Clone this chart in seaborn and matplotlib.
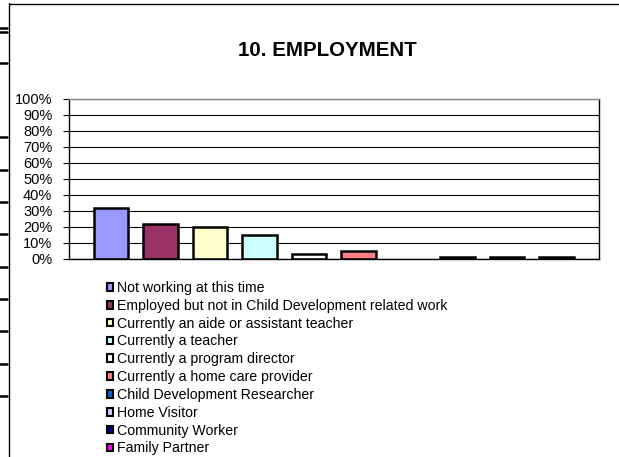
import numpy as np
import pandas as pd
import matplotlib.pyplot as plt
from matplotlib.patches import Patch
from matplotlib.lines import Line2D
import seaborn as sns

# Data
categories = ["Not working at this time",
              "Employed but not in Child Development related work",
              "Currently an aide or assistant teacher",
              "Currently a teacher",
              "Currently a program director",
              "Currently a home care provider",
              "Child Development Researcher",
              "Home Visitor",
              "Community Worker",
              "Family Partner"]
values = [32, 22, 20, 15, 3, 5, 0, 1, 1, 1]
colors = ["#9999FF", "#993366", "#FFFFCC", "#CCFFFF", "#FFFFFF",
          "#FF8080", "#0066CC", "#CCCCFF", "#000080", "#FF00FF"]
yticks = list(range(0, 101, 10))
ytick_labels = [str(t) + "%" for t in yticks]

sns.set_style("white")
plt.rcParams['font.family'] = ['Liberation Sans', 'DejaVu Sans']
plt.rcParams['text.color'] = 'black'
plt.rcParams['ytick.color'] = 'black'
plt.rcParams['ytick.labelcolor'] = 'black'

df = pd.DataFrame({"cat": categories, "val": values})

W, H = 619, 457
fig = plt.figure(figsize=(W / 100, H / 100), dpi=100)
ax = fig.add_axes([69 / W, 1 - 259 / H, 530 / W, 160 / H])

# gridlines drawn behind bars
for t in yticks:
    ax.axhline(t, color="black", lw=0.8, zorder=0)

sns.barplot(data=df, x="cat", y="val", hue="cat", palette=colors,
            saturation=1, legend=False, width=0.69, edgecolor="black",
            linewidth=1.8, ax=ax, zorder=2)
# a zero bar shows nothing in the original
for p in ax.patches:
    if p.get_height() == 0:
        p.set_edgecolor("none")

ax.set_xlim(-0.85, 9.86)
ax.set_ylim(0, 100)
ax.set_yticks(yticks)
ax.set_yticklabels(ytick_labels, fontsize=10.5, color="black")
ax.set_xticks([])
ax.set_xlabel("")
ax.set_ylabel("")
ax.tick_params(axis="y", which="major", left=True, length=4, width=0.8,
               color="black", pad=8)
for side in ["left", "bottom", "right", "top"]:
    ax.spines[side].set_visible(True)
    ax.spines[side].set_color("black")
    ax.spines[side].set_linewidth(1.0)
ax.spines["top"].set_color("#888888")

fig.text(327 / W, 1 - 50.5 / H, "10. EMPLOYMENT", ha="center", va="center",
         fontsize=14.8, fontweight="bold", color="black")

handles = [Patch(facecolor=c, edgecolor="black", linewidth=1.5) for c in colors]
leg = fig.legend(handles, categories, loc="upper left",
                 bbox_to_anchor=(107 / W, 1 - 281 / H), frameon=False,
                 fontsize=10.2, handlelength=0.45, handleheight=0.45,
                 handletextpad=0.25, labelspacing=0.27, borderpad=0,
                 borderaxespad=0)
for txt in leg.get_texts():
    txt.set_color("black")

# outer chart frame and neighbouring tick stubs at the left edge
fig.add_artist(Line2D([8.5 / W, 8.5 / W], [0, 1 - 3 / H], color="black",
                      lw=1.0, transform=fig.transFigure))
fig.add_artist(Line2D([8.5 / W, 1], [1 - 3.5 / H, 1 - 3.5 / H], color="black",
                      lw=1.0, transform=fig.transFigure))
stub_y = [28, 32, 63, 137, 170, 202, 234, 267, 299, 331, 364, 396]
for y in stub_y:
    fig.add_artist(Line2D([0, 7 / W], [1 - y / H, 1 - y / H], color="black",
                          lw=1.8, transform=fig.transFigure))

fig.savefig("out.png", dpi=100, facecolor="white")
